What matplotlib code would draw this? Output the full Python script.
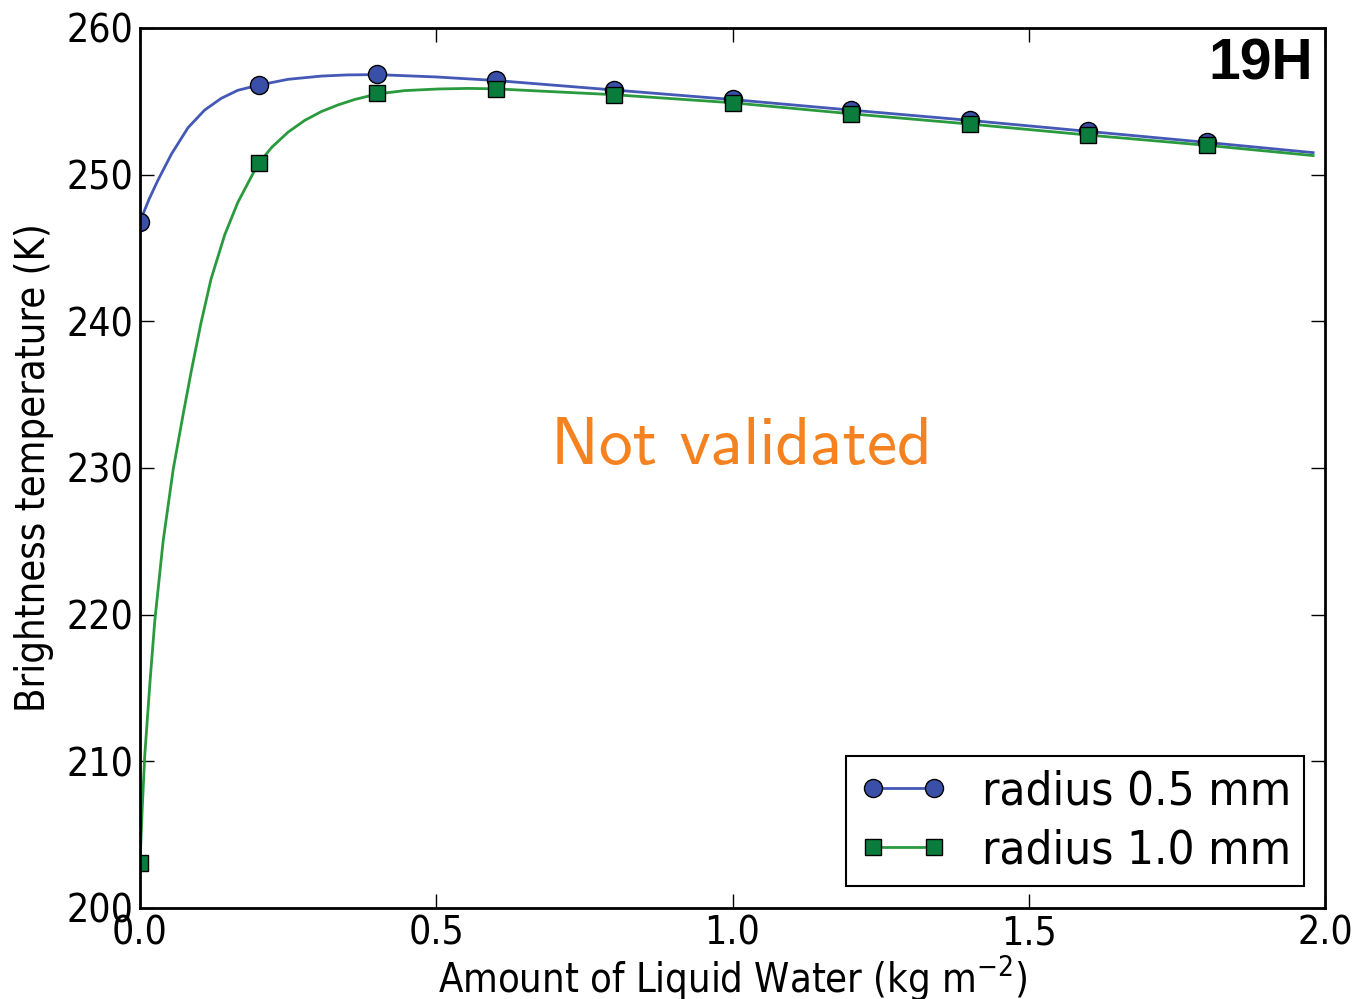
import matplotlib
matplotlib.use("Agg")
import matplotlib.pyplot as plt

# marker positions (every 0.2 kg m^-2)
x_marks = [0.0, 0.2, 0.4, 0.6, 0.8, 1.0, 1.2, 1.4, 1.6, 1.8]
tb_r05_marks = [246.8, 256.1, 256.85, 256.45, 255.8, 255.15, 254.4, 253.7, 252.95, 252.2]
tb_r10_marks = [203.1, 250.8, 255.6, 255.85, 255.45, 254.9, 254.15, 253.45, 252.7, 252.0]

# curves
x_r05_curve = [0.0, 0.015, 0.03, 0.053, 0.081, 0.109, 0.137, 0.165, 0.2, 0.25, 0.306, 0.35,
               0.4, 0.5, 0.6, 0.8, 1.0, 1.2, 1.4, 1.6, 1.8, 1.98]
tb_r05_curve = [246.8, 248.3, 249.6, 251.4, 253.2, 254.4, 255.2, 255.75, 256.1, 256.5, 256.72,
                256.8, 256.82, 256.66, 256.42, 255.77, 255.12, 254.4, 253.7, 252.95, 252.2, 251.5]
x_r10_curve = [0.0, 0.004, 0.008, 0.017, 0.025, 0.039, 0.056, 0.073, 0.087, 0.103, 0.12, 0.143,
               0.165, 0.191, 0.2, 0.222, 0.25, 0.278, 0.306, 0.334, 0.362, 0.4, 0.447, 0.503,
               0.554, 0.6, 0.8, 1.0, 1.2, 1.4, 1.6, 1.8, 1.98]
tb_r10_curve = [203.1, 207.0, 210.4, 215.5, 219.6, 225.0, 229.9, 233.7, 236.7, 239.9, 242.9, 245.9,
                248.1, 250.1, 250.75, 251.85, 252.9, 253.7, 254.3, 254.75, 255.12, 255.5, 255.73,
                255.84, 255.88, 255.85, 255.45, 254.9, 254.15, 253.45, 252.7, 252.0, 251.3]

labels = ["radius 0.5 mm", "radius 1.0 mm"]

BLUE_LINE = "#4458b6"
BLUE_FACE = "#3a50a8"
GREEN_LINE = "#2a9a3e"
GREEN_FACE = "#0a7d3c"

plt.rcParams["font.family"] = "DejaVu Sans"
plt.rcParams["font.stretch"] = "condensed"
plt.rcParams["mathtext.fontset"] = "dejavusans"

fig = plt.figure(figsize=(13.58, 9.99), dpi=100)
ax = fig.add_axes([0.1031, 0.0911, 0.8726, 0.8809])

ax.plot(x_r05_curve, tb_r05_curve, color=BLUE_LINE, lw=2)
ax.plot(x_r10_curve, tb_r10_curve, color=GREEN_LINE, lw=2)
ax.plot(x_marks, tb_r05_marks, ls="none", marker="o", ms=13, mfc=BLUE_FACE, mec="black", mew=1)
ax.plot(x_marks, tb_r10_marks, ls="none", marker="s", ms=12, mfc=GREEN_FACE, mec="black", mew=1)

# legend proxies: line with a marker at each end
h1, = ax.plot([], [], color=BLUE_LINE, lw=2, marker="o", ms=13, mfc=BLUE_FACE, mec="black")
h2, = ax.plot([], [], color=GREEN_LINE, lw=2, marker="s", ms=12, mfc=GREEN_FACE, mec="black")
leg = ax.legend([h1, h2], labels, loc="lower right", numpoints=2, fontsize=34,
                fancybox=False, framealpha=1, edgecolor="black", borderpad=0.27,
                handlelength=1.9, handletextpad=0.7, labelspacing=0.3,
                borderaxespad=0, bbox_to_anchor=(0.982, 0.025))
leg.get_frame().set_linewidth(1.5)

ax.set_xlim(0, 2.0)
ax.set_ylim(200, 260)
ax.set_xticks([0.0, 0.5, 1.0, 1.5, 2.0])
ax.set_yticks([200, 210, 220, 230, 240, 250, 260])
ax.tick_params(direction="in", length=10, width=1, labelsize=28, top=True, right=True, pad=5)
for s in ax.spines.values():
    s.set_linewidth(2)

ax.set_xlabel("Amount of Liquid Water (kg m$^{-2}$)", fontsize=28.5, labelpad=1)
ax.set_ylabel("Brightness temperature (K)", fontsize=28.5, labelpad=9)

ax.text(0.99, 0.989, "19H", transform=ax.transAxes, ha="right", va="top",
        fontsize=41, fontweight="bold", family="Liberation Sans")
ax.text(1.015, 231.4, "Not validated", ha="center", va="center", fontsize=48.7,
        color="#f58220", family="cmss10")

fig.savefig("out.png", dpi=100)
